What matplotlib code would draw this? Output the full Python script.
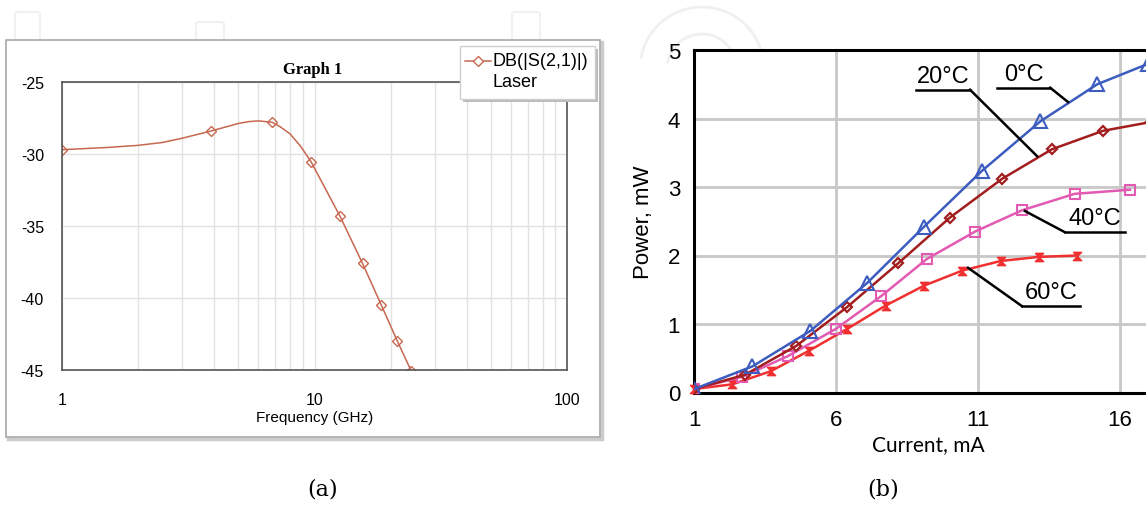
import numpy as np
import matplotlib
matplotlib.use("Agg")
from matplotlib import pyplot as plt
from matplotlib.patches import Rectangle, FancyBboxPatch, Arc
from matplotlib.lines import Line2D

plt.rcParams["font.family"] = ["Liberation Sans", "DejaVu Sans"]
plt.rcParams["axes.unicode_minus"] = False

# (a) laser S21 response
freq_line = [1, 1.5, 2, 2.5, 3, 3.9, 4.5, 5, 5.5, 6, 6.8, 7.3, 8, 8.8, 9.7, 12.6,
             15.5, 18.4, 21.3, 24.2]
db_line = [-29.7, -29.55, -29.4, -29.2, -28.9, -28.4, -28.1, -27.88, -27.75, -27.7,
           -27.8, -28.1, -28.6, -29.45, -30.55, -34.3, -37.6, -40.5, -43.0, -45.1]
freq_mark = [1, 3.9, 6.8, 9.7, 12.6, 15.5, 18.4, 21.3, 24.2]
db_mark = [-29.7, -28.4, -27.8, -30.55, -34.3, -37.6, -40.5, -43.0, -45.1]
yticks_a = [-45, -40, -35, -30, -25]

# (b) power vs current
i_0 = [1.0, 3.05, 5.1, 7.1, 9.1, 11.15, 13.2, 15.2, 17.0]
p_0 = [0.05, 0.38, 0.9, 1.6, 2.42, 3.24, 3.96, 4.5, 4.8]
i_20 = [1.0, 2.8, 4.6, 6.4, 8.2, 10.0, 11.85, 13.6, 15.4, 17.1]
p_20 = [0.05, 0.26, 0.68, 1.25, 1.89, 2.55, 3.12, 3.55, 3.82, 3.95]
i_40 = [1.0, 2.7, 4.3, 6.0, 7.6, 9.2, 10.9, 12.55, 14.4, 16.35]
p_40 = [0.05, 0.23, 0.53, 0.93, 1.41, 1.95, 2.35, 2.66, 2.9, 2.96]
i_60 = [1.0, 2.35, 3.7, 5.05, 6.4, 7.75, 9.1, 10.45, 11.8, 13.15, 14.5]
p_60 = [0.05, 0.12, 0.31, 0.61, 0.93, 1.27, 1.56, 1.78, 1.92, 1.98, 2.0]
xticks_b = [1, 6, 11, 16]
yticks_b = [0, 1, 2, 3, 4, 5]

W, H = 1146, 506
fig = plt.figure(figsize=(W / 100, H / 100), dpi=100)


def fx(px):
    return px / W


def fy(py):
    return 1 - py / H


# faint page watermark bits
for x0, y0, x1, y1 in [(15, 13, 40, 42), (196, 23, 224, 42), (512, 13, 540, 42)]:
    fig.add_artist(FancyBboxPatch((fx(x0), fy(y1)), fx(x1 - x0), (y1 - y0) / H,
                                  boxstyle="round,pad=0,rounding_size=0.004",
                                  transform=fig.transFigure, fill=False,
                                  ec="#f0f2f2", lw=1.5, zorder=-3))
for r in [62, 35]:
    fig.add_artist(Arc((fx(702), fy(70)), 2 * r / W, 2 * r / H, theta1=20, theta2=160,
                       transform=fig.transFigure, color="#f0f0f0", lw=2, zorder=-3))

# ---------- panel (a) ----------
fig.add_artist(Rectangle((fx(8), fy(440)), fx(594), 397 / H, transform=fig.transFigure,
                         fc="none", ec="#cccccc", lw=2.5, zorder=-2))
fig.add_artist(Rectangle((fx(6), fy(438)), fx(594), 397 / H, transform=fig.transFigure,
                         fc="white", ec="#a8a8a8", lw=1.2, zorder=-1))

axa = fig.add_axes([fx(62), fy(371), fx(505), 288 / H])
axa.set_xscale("log")
axa.set_xlim(1, 100)
axa.set_ylim(-45, -25)
axa.plot(freq_line, db_line, color="#c8674f", lw=1.1)
axa.plot(freq_mark, db_mark, ls="none", marker="D", ms=5, mfc="none", mec="#c8674f",
         mew=1.0)
axa.set_yticks(yticks_a)
axa.set_xticks([1, 10, 100])
axa.set_xticklabels(["1", "10", "100"])
axa.grid(True, which="both", color="#e2e2e2", lw=1)
axa.tick_params(which="both", length=0, labelsize=11.5)
axa.tick_params(axis="y", pad=13)
axa.tick_params(axis="x", pad=16)
for s in axa.spines.values():
    s.set_color("#555555")
    s.set_linewidth(1.2)
axa.set_xlabel("Frequency (GHz)", fontsize=11, labelpad=2)
fig.text(fx(313), fy(70), "Graph 1", ha="center", va="center", fontsize=12,
         fontweight="bold", family="Liberation Serif")

# legend box
fig.add_artist(Rectangle((fx(463), fy(103)), fx(135), 53 / H, transform=fig.transFigure,
                         fc="#bbbbbb", ec="none", zorder=5))
fig.add_artist(Rectangle((fx(460), fy(100)), fx(135), 53 / H, transform=fig.transFigure,
                         fc="white", ec="#cfcfcf", lw=1, zorder=6))
fig.add_artist(Line2D([fx(465), fx(491)], [fy(62), fy(62)], transform=fig.transFigure,
                      color="#c8674f", lw=1.1, zorder=7))
fig.add_artist(Line2D([fx(478)], [fy(62)], transform=fig.transFigure, ls="none",
                      marker="D", ms=5, mfc="white", mec="#c8674f", mew=1, zorder=8))
fig.text(fx(493), fy(62), "DB(|S(2,1)|)", ha="left", va="center", fontsize=13,
         zorder=8)
fig.text(fx(493), fy(83), "Laser", ha="left", va="center", fontsize=13, zorder=8)

# ---------- panel (b) ----------
axb = fig.add_axes([fx(694), fy(393.5), 16.5 * 28.4 / W, 342.5 / H])
axb.set_xlim(1, 17.5)
axb.set_ylim(0, 5)
hourglass = [(-1, 1), (1, 1), (-1, -1), (1, -1), (-1, 1)]
axb.plot(i_60, p_60, color="#f03030", lw=1.8, marker=hourglass, ms=6, mfc="#f03030",
         mec="#f03030", clip_on=False, zorder=3)
axb.plot(i_40, p_40, color="#e25ab2", lw=1.8, marker="s", ms=7.5, mfc="none",
         mec="#e25ab2", mew=1.5, zorder=4)
axb.plot(i_20, p_20, color="#a21d1d", lw=1.8, marker="D", ms=5.5, mfc="none",
         mec="#a21d1d", mew=1.6, zorder=5)
axb.plot(i_0, p_0, color="#3d5cbf", lw=1.8, marker="^", ms=10, mfc="none", mec="#3d5cbf",
         mew=1.5, zorder=6)
axb.set_xticks(xticks_b)
axb.set_yticks(yticks_b)
axb.grid(True, color="#c8c8c8", lw=2)
axb.set_axisbelow(True)
axb.tick_params(length=0, labelsize=16)
axb.tick_params(axis="y", pad=10)
axb.tick_params(axis="x", pad=12)
for k in ["left", "bottom", "top"]:
    axb.spines[k].set_linewidth(2.2)
axb.spines["right"].set_visible(False)
axb.set_ylabel("Power, mW", fontsize=16, labelpad=10)
axb.set_xlabel("Current, mA", fontsize=15, family="Lato", labelpad=3)

# leader labels
labels_b = [
    ("20°C", 8.82, 10.72, 4.42, 13.08, 3.45, 10.72),
    ("0°C", 11.67, 13.54, 4.45, 14.17, 4.24, 13.54),
    ("40°C", 14.06, 16.18, 2.34, 12.65, 2.65, 14.06),
    ("60°C", 12.55, 14.59, 1.26, 10.65, 1.82, 12.55),
]
for txt, xa, xb, yl, xe, ye, xs in labels_b:
    axb.plot([xa, xb], [yl, yl], color="black", lw=1.8, zorder=7, clip_on=False)
    axb.plot([xs, xe], [yl, ye], color="black", lw=1.8, zorder=7, clip_on=False)
    axb.text((xa + xb) / 2, yl + 0.04, txt, ha="center", va="bottom", fontsize=17,
             zorder=8)

fig.text(fx(323), fy(490), "(a)", ha="center", va="center", fontsize=16,
         family="DejaVu Serif")
fig.text(fx(883), fy(490), "(b)", ha="center", va="center", fontsize=16,
         family="DejaVu Serif")

fig.savefig("out.png", dpi=100)
